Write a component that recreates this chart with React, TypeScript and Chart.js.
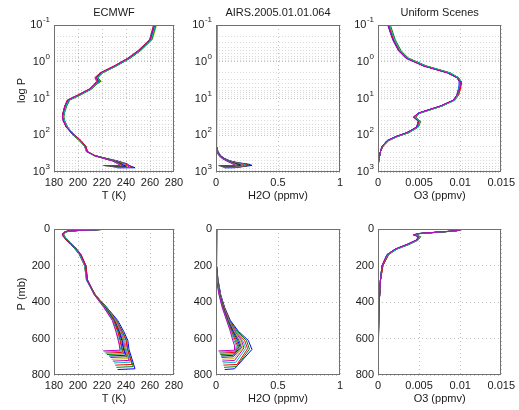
import React, { useEffect, useRef } from 'react';
import { Chart, registerables } from 'chart.js';

Chart.register(...registerables);

// ---------------- data ----------------
// shared pressure levels (mb) of every profile, top of atmosphere downwards
const PRESSURE_LEVELS = [0.1, 0.25, 0.5, 0.8, 1.3, 2, 2.7, 3.4, 4.2, 5.5, 8, 11, 16, 25, 32, 42, 60, 85, 110, 140, 200, 280, 360, 430, 500, 560, 610];
// the last three points of each profile: level of the low-level maximum, surface, skin point
const PEAK_P = [640, 642, 644, 646, 648, 650, 650, 652, 654, 656, 658, 660];
const SURFACE_P = [664, 670, 676, 684, 692, 700, 710, 720, 730, 742, 754, 766];
const SKIN_P = [668, 674, 680, 688, 696, 704, 714, 724, 734, 746, 758, 770];

// temperature (K)
const T_01 = [263.5, 260, 250.5, 242, 230.5, 219, 215, 216.5, 213.5, 210, 200.5, 191.5, 189, 187.5, 187, 188, 190.5, 195, 198.5, 202, 206, 207.5, 213.5, 221.5, 228.5, 231.5, 233.5, 234.5, 235, 221];
const T_02 = [264.5, 261, 251.5, 243, 231.5, 220, 216, 218, 214.5, 211, 201.5, 192.5, 190, 188.5, 188, 189, 191, 195.5, 198, 201.5, 205.5, 207, 213.5, 222, 229, 232, 234, 235, 236, 222];
const T_03 = [263, 260, 250, 241.5, 230, 218.5, 214, 215.5, 213, 209.5, 200, 191, 189, 187.5, 187.5, 188.5, 190, 194.5, 198.5, 202.5, 206.5, 208, 214, 222, 229.5, 233, 235, 236, 237, 223];
const T_04 = [265, 261.5, 252, 243.5, 232, 220.5, 216.5, 219, 215, 211.5, 202, 193, 190.5, 188.5, 188, 189, 191.5, 195, 197.5, 201, 205.5, 207.5, 214, 222.5, 230, 233.5, 235.5, 236.5, 238, 224];
const T_05 = [264, 260.5, 251, 242.5, 231, 219.5, 215.5, 217, 214, 210.5, 201, 192, 189.5, 188, 187.5, 188.5, 190.5, 194, 198, 202, 206, 207.5, 214, 222.5, 230, 234, 236.5, 237.5, 239.5, 226];
const T_06 = [263.5, 260, 250.5, 242, 231, 219, 215, 218, 214, 210, 200.5, 191.5, 189, 187.5, 187, 188, 190, 195.5, 199, 202.5, 206.5, 207.5, 214, 223, 230.5, 234.5, 237, 238, 240.5, 227];
const T_07 = [265.5, 262, 252, 243, 231.5, 220, 216, 219.5, 215, 211, 201.5, 192.5, 190, 188.5, 188, 189, 191, 194.5, 197.5, 201.5, 205.5, 207.5, 214.5, 223, 231, 235, 237.5, 238.5, 241.5, 228];
const T_08 = [264, 260.5, 251, 242.5, 231, 219.5, 215.5, 217.5, 214.5, 210.5, 201, 192, 189.5, 188, 187.5, 188, 190.5, 195, 198.5, 202, 206, 207.5, 214, 223, 231, 235.5, 238, 239, 242.5, 229];
const T_09 = [263, 259.5, 250, 241.5, 230.5, 218.5, 214.5, 216, 213.5, 209.5, 200, 191.5, 189, 187.5, 187.5, 188.5, 190.5, 194.5, 198, 202, 206, 208, 214, 223.5, 231.5, 236, 239, 240, 243.5, 230];
const T_10 = [264.5, 261, 251.5, 243, 231.5, 220, 216, 218.5, 214.5, 211, 201.5, 192.5, 190, 188.5, 188, 189, 191, 195, 198, 201.5, 205.5, 207, 214.5, 223.5, 232, 236.5, 240, 241, 245, 231];
const T_11 = [265, 261.5, 252, 243.5, 232, 220.5, 216.5, 217, 215, 211, 202, 193, 190.5, 188.5, 188, 189, 191, 195.5, 198.5, 202, 206, 207.5, 214.5, 224, 232, 237, 240.5, 241.5, 246, 232];
const T_12 = [264, 260.5, 251, 242.5, 231, 219.5, 215.5, 216.5, 214, 210.5, 201, 192, 189.5, 188, 187.5, 188.5, 190.5, 194.5, 198, 202, 206.5, 208, 214, 224, 233, 238, 241.5, 242.5, 247.5, 233];
const TEMPERATURE = [T_01, T_02, T_03, T_04, T_05, T_06, T_07, T_08, T_09, T_10, T_11, T_12];

// water vapour (ppmv)
const Q_01 = [0.004, 0.004, 0.004, 0.004, 0.004, 0.004, 0.004, 0.004, 0.004, 0.004, 0.003, 0.003, 0.003, 0.003, 0.003, 0.003, 0.003, 0.002, 0.002, 0.002, 0.003, 0.008, 0.024, 0.05, 0.085, 0.115, 0.135, 0.15, 0.15, 0.02];
const Q_02 = [0.005, 0.005, 0.005, 0.005, 0.004, 0.004, 0.004, 0.004, 0.004, 0.004, 0.004, 0.003, 0.003, 0.003, 0.003, 0.003, 0.003, 0.003, 0.002, 0.002, 0.003, 0.009, 0.026, 0.052, 0.088, 0.12, 0.145, 0.165, 0.155, 0.025];
const Q_03 = [0.003, 0.003, 0.003, 0.003, 0.003, 0.003, 0.003, 0.003, 0.003, 0.003, 0.003, 0.003, 0.003, 0.002, 0.002, 0.002, 0.002, 0.002, 0.002, 0.002, 0.004, 0.01, 0.028, 0.055, 0.09, 0.125, 0.155, 0.175, 0.15, 0.03];
const Q_04 = [0.006, 0.006, 0.006, 0.005, 0.005, 0.005, 0.005, 0.005, 0.005, 0.005, 0.004, 0.004, 0.004, 0.003, 0.003, 0.003, 0.003, 0.003, 0.003, 0.003, 0.004, 0.011, 0.03, 0.057, 0.092, 0.13, 0.165, 0.185, 0.145, 0.035];
const Q_05 = [0.004, 0.004, 0.004, 0.004, 0.004, 0.004, 0.004, 0.004, 0.004, 0.004, 0.004, 0.003, 0.003, 0.003, 0.003, 0.003, 0.003, 0.002, 0.002, 0.002, 0.004, 0.012, 0.03, 0.058, 0.095, 0.135, 0.175, 0.195, 0.14, 0.04];
const Q_06 = [0.005, 0.005, 0.005, 0.005, 0.005, 0.005, 0.005, 0.004, 0.004, 0.004, 0.004, 0.004, 0.003, 0.003, 0.003, 0.003, 0.003, 0.003, 0.002, 0.002, 0.005, 0.012, 0.031, 0.06, 0.097, 0.14, 0.185, 0.205, 0.14, 0.045];
const Q_07 = [0.003, 0.003, 0.003, 0.003, 0.003, 0.003, 0.003, 0.003, 0.003, 0.003, 0.003, 0.003, 0.002, 0.002, 0.002, 0.002, 0.002, 0.002, 0.002, 0.002, 0.005, 0.013, 0.032, 0.061, 0.1, 0.145, 0.195, 0.215, 0.145, 0.05];
const Q_08 = [0.006, 0.006, 0.005, 0.005, 0.005, 0.005, 0.005, 0.005, 0.005, 0.004, 0.004, 0.004, 0.004, 0.003, 0.003, 0.003, 0.003, 0.003, 0.003, 0.002, 0.005, 0.013, 0.033, 0.062, 0.102, 0.15, 0.205, 0.225, 0.15, 0.05];
const Q_09 = [0.004, 0.004, 0.004, 0.004, 0.004, 0.004, 0.004, 0.004, 0.004, 0.004, 0.004, 0.004, 0.003, 0.003, 0.003, 0.003, 0.003, 0.003, 0.002, 0.002, 0.006, 0.014, 0.034, 0.064, 0.105, 0.155, 0.215, 0.24, 0.16, 0.055];
const Q_10 = [0.005, 0.005, 0.005, 0.005, 0.004, 0.004, 0.004, 0.004, 0.004, 0.004, 0.004, 0.003, 0.003, 0.003, 0.003, 0.003, 0.003, 0.003, 0.003, 0.003, 0.006, 0.015, 0.035, 0.066, 0.108, 0.16, 0.23, 0.255, 0.17, 0.06];
const Q_11 = [0.003, 0.003, 0.003, 0.003, 0.003, 0.003, 0.003, 0.003, 0.003, 0.003, 0.003, 0.003, 0.003, 0.002, 0.002, 0.002, 0.002, 0.002, 0.002, 0.002, 0.006, 0.016, 0.036, 0.068, 0.11, 0.17, 0.245, 0.27, 0.165, 0.065];
const Q_12 = [0.005, 0.005, 0.005, 0.005, 0.005, 0.005, 0.005, 0.005, 0.005, 0.005, 0.004, 0.004, 0.004, 0.004, 0.003, 0.003, 0.003, 0.003, 0.003, 0.003, 0.007, 0.017, 0.038, 0.07, 0.115, 0.18, 0.26, 0.29, 0.15, 0.07];
const WATER = [Q_01, Q_02, Q_03, Q_04, Q_05, Q_06, Q_07, Q_08, Q_09, Q_10, Q_11, Q_12];

// ozone (ppmv)
const O_01 = [0.0012, 0.0018, 0.0025, 0.0034, 0.0055, 0.0084, 0.0096, 0.0100, 0.0101, 0.0099, 0.0096, 0.0092, 0.0076, 0.0049, 0.0043, 0.0049, 0.0047, 0.0035, 0.0021, 0.0011, 0.0005, 0.0003, 0.0002, 0.0001, 0.00005, 0.00003, 0.00002, 0.00002, 0.00002, 0.00002];
const O_02 = [0.0014, 0.0020, 0.0027, 0.0036, 0.0058, 0.0087, 0.0098, 0.0101, 0.0100, 0.0098, 0.0097, 0.0094, 0.0078, 0.0051, 0.0045, 0.0051, 0.0049, 0.0037, 0.0023, 0.0012, 0.0005, 0.0003, 0.0002, 0.0001, 0.00005, 0.00003, 0.00002, 0.00002, 0.00002, 0.00002];
const O_03 = [0.0013, 0.0019, 0.0026, 0.0035, 0.0056, 0.0085, 0.0097, 0.0099, 0.0100, 0.0100, 0.0098, 0.0093, 0.0077, 0.0050, 0.0046, 0.0050, 0.0048, 0.0036, 0.0022, 0.0012, 0.0006, 0.0003, 0.0002, 0.0001, 0.00005, 0.00003, 0.00002, 0.00002, 0.00002, 0.00002];
const O_04 = [0.0015, 0.0021, 0.0028, 0.0037, 0.0059, 0.0088, 0.0098, 0.0101, 0.0101, 0.0099, 0.0097, 0.0093, 0.0078, 0.0051, 0.0044, 0.0052, 0.0049, 0.0038, 0.0023, 0.0013, 0.0006, 0.0003, 0.0002, 0.0001, 0.00006, 0.00003, 0.00002, 0.00002, 0.00002, 0.00002];
const O_05 = [0.0012, 0.0018, 0.0025, 0.0034, 0.0056, 0.0085, 0.0096, 0.0099, 0.0099, 0.0098, 0.0096, 0.0092, 0.0076, 0.0049, 0.0045, 0.0049, 0.0047, 0.0035, 0.0021, 0.0011, 0.0005, 0.0003, 0.0002, 0.0001, 0.00005, 0.00003, 0.00002, 0.00002, 0.00002, 0.00002];
const O_06 = [0.0013, 0.0019, 0.0026, 0.0036, 0.0057, 0.0086, 0.0097, 0.0100, 0.0100, 0.0099, 0.0097, 0.0093, 0.0077, 0.0050, 0.0043, 0.0050, 0.0048, 0.0036, 0.0022, 0.0012, 0.0005, 0.0003, 0.0002, 0.0001, 0.00005, 0.00003, 0.00002, 0.00002, 0.00002, 0.00002];
const O_07 = [0.0014, 0.0020, 0.0027, 0.0036, 0.0058, 0.0087, 0.0097, 0.0101, 0.0102, 0.0100, 0.0098, 0.0094, 0.0078, 0.0051, 0.0045, 0.0051, 0.0048, 0.0037, 0.0022, 0.0012, 0.0005, 0.0003, 0.0002, 0.0001, 0.00005, 0.00003, 0.00002, 0.00002, 0.00002, 0.00002];
const O_08 = [0.0013, 0.0019, 0.0026, 0.0035, 0.0056, 0.0085, 0.0096, 0.0100, 0.0100, 0.0099, 0.0097, 0.0093, 0.0076, 0.0050, 0.0044, 0.0050, 0.0047, 0.0036, 0.0022, 0.0012, 0.0005, 0.0003, 0.0002, 0.0001, 0.00005, 0.00003, 0.00002, 0.00002, 0.00002, 0.00002];
const O_09 = [0.0012, 0.0018, 0.0025, 0.0035, 0.0057, 0.0086, 0.0097, 0.0100, 0.0099, 0.0098, 0.0096, 0.0092, 0.0077, 0.0049, 0.0044, 0.0049, 0.0048, 0.0035, 0.0021, 0.0011, 0.0005, 0.0003, 0.0002, 0.0001, 0.00005, 0.00003, 0.00002, 0.00002, 0.00002, 0.00002];
const O_10 = [0.0014, 0.0020, 0.0027, 0.0037, 0.0058, 0.0087, 0.0098, 0.0101, 0.0101, 0.0100, 0.0098, 0.0094, 0.0078, 0.0051, 0.0045, 0.0051, 0.0049, 0.0037, 0.0023, 0.0013, 0.0006, 0.0003, 0.0002, 0.0001, 0.00005, 0.00003, 0.00002, 0.00002, 0.00002, 0.00002];
const O_11 = [0.0013, 0.0019, 0.0026, 0.0035, 0.0056, 0.0085, 0.0096, 0.0099, 0.0100, 0.0099, 0.0097, 0.0093, 0.0077, 0.0050, 0.0046, 0.0050, 0.0048, 0.0036, 0.0022, 0.0012, 0.0005, 0.0003, 0.0002, 0.0001, 0.00005, 0.00003, 0.00002, 0.00002, 0.00002, 0.00002];
const O_12 = [0.0013, 0.0019, 0.0026, 0.0036, 0.0057, 0.0086, 0.0097, 0.0100, 0.0100, 0.0099, 0.0097, 0.0093, 0.0077, 0.0050, 0.0044, 0.0050, 0.0048, 0.0036, 0.0022, 0.0012, 0.0005, 0.0003, 0.0002, 0.0001, 0.00005, 0.00003, 0.00002, 0.00002, 0.00002, 0.00002];
const OZONE = [O_01, O_02, O_03, O_04, O_05, O_06, O_07, O_08, O_09, O_10, O_11, O_12];

// axis ticks and texts
const X_TICKS_T = [180, 200, 220, 240, 260, 280];
const X_TICKS_H2O = [0, 0.5, 1];
const X_TICKS_O3 = [0, 0.005, 0.01, 0.015];
const LOG_P_DECADES = [-1, 0, 1, 2, 3];
const P_TICKS = [0, 200, 400, 600, 800];
const PANEL_TITLES = ['ECMWF', 'AIRS.2005.01.01.064', 'Uniform Scenes'];
const X_LABELS = ['T (K)', 'H2O (ppmv)', 'O3 (ppmv)'];
const Y_LABELS = ['log P', 'P (mb)'];

// ---------------- styling / layout ----------------
const FONT = "'Liberation Sans', Arial, Helvetica, sans-serif";
const TEXT = '#1a1a1a';
const FRAME = '#707070';
const GRID_MAJOR = 'rgba(0,0,0,0.24)';
const GRID_MINOR = 'rgba(0,0,0,0.15)';
const LINE_COLORS = ['#0000ff', '#008000', '#ff0000', '#00bfbf', '#bf00bf', '#bfbf00', '#404040'];

// canvas boxes (cl/cw, ct/ch) and plot areas (al/ar, at/ab) in page pixels
const COLS = [
  { cl: 0, cw: 196, al: 54, ar: 174 },
  { cl: 176, cw: 186, al: 216, ar: 340 },
  { cl: 338, cw: 181, al: 378, ar: 502 },
];
const ROWS = [
  { ct: 0, ch: 205, at: 25, ab: 172 },
  { ct: 206, ch: 204, at: 229, ab: 375 },
];

Chart.defaults.font.family = FONT;

function pressureAt(k: number, i: number): number {
  const n = PRESSURE_LEVELS.length;
  if (i < n) return PRESSURE_LEVELS[i];
  return [PEAK_P, SURFACE_P, SKIN_P][i - n][k];
}

function makeDatasets(series: number[][]) {
  return series.map((vals, k) => ({
    label: 'profile ' + (k + 1),
    data: vals.map((v, i) => ({ x: v, y: pressureAt(k, i) })),
    borderColor: LINE_COLORS[(series.length - 1 - k) % LINE_COLORS.length],
    backgroundColor: LINE_COLORS[(series.length - 1 - k) % LINE_COLORS.length],
    borderWidth: 1,
    pointRadius: 0,
    showLine: true,
    tension: 0,
  }));
}

const fmt = (v: any) => String(Number(Number(v).toFixed(4)));

const decorPlugin = {
  id: 'decor',
  afterDraw(chart: any, _args: any, opts: any) {
    const { ctx, chartArea: a } = chart;
    ctx.save();
    ctx.setLineDash([]);
    ctx.strokeStyle = FRAME;
    ctx.lineWidth = 1;
    ctx.strokeRect(Math.round(a.left) + 0.5, Math.round(a.top) + 0.5, Math.round(a.right - a.left) - 1, Math.round(a.bottom - a.top) - 1);
    ctx.fillStyle = TEXT;
    ctx.textBaseline = 'middle';
    const cx = (a.left + a.right) / 2;
    ctx.font = '11px ' + FONT;
    ctx.textAlign = 'center';
    if (opts.title) ctx.fillText(opts.title, cx, a.top - 12);
    if (opts.xTitle) ctx.fillText(opts.xTitle, cx, a.bottom + 24);
    if (opts.yTitle) {
      ctx.save();
      ctx.translate(22, (a.top + a.bottom) / 2 - 8);
      ctx.rotate(-Math.PI / 2);
      ctx.fillText(opts.yTitle, 0, 0);
      ctx.restore();
    }
    if (opts.decades) {
      const ys = chart.scales.y;
      const xr = a.left - 4;
      ctx.textAlign = 'right';
      for (const e of opts.decades) {
        const y = ys.getPixelForValue(Math.pow(10, e));
        const es = String(e);
        ctx.font = '8px ' + FONT;
        const ew = ctx.measureText(es).width;
        ctx.fillText(es, xr, y - 5);
        ctx.font = '11px ' + FONT;
        ctx.fillText('10', xr - ew - 0.5, y);
      }
    }
    ctx.restore();
  },
};

function buildConfig(row: number, col: number): any {
  const R = ROWS[row];
  const C = COLS[col];
  const series = [TEMPERATURE, WATER, OZONE][col];
  const xTicks = [X_TICKS_T, X_TICKS_H2O, X_TICKS_O3][col];
  const logY = row === 0;
  const yAxisW = C.al - C.cl;
  const xAxisH = R.ct + R.ch - R.ab;
  const tickFont = { size: 11, family: FONT };

  const yScale = logY
    ? {
        type: 'logarithmic',
        min: Math.pow(10, LOG_P_DECADES[0]),
        max: Math.pow(10, LOG_P_DECADES[LOG_P_DECADES.length - 1]),
        reverse: true,
        afterBuildTicks: (s: any) => {
          const t: any[] = [];
          for (let d = 0; d < LOG_P_DECADES.length - 1; d++) {
            for (let m = 1; m <= 9; m++) t.push({ value: m * Math.pow(10, LOG_P_DECADES[d]), major: m === 1 });
          }
          t.push({ value: Math.pow(10, LOG_P_DECADES[LOG_P_DECADES.length - 1]), major: true });
          s.ticks = t;
        },
        afterFit: (s: any) => { s.width = yAxisW; },
        ticks: { display: false, autoSkip: false },
        grid: {
          color: (c: any) => (c.tick && c.tick.major ? GRID_MAJOR : GRID_MINOR),
          lineWidth: 1,
          drawTicks: false,
        },
        border: { display: false, dash: [1, 2] },
      }
    : {
        type: 'linear',
        min: P_TICKS[0],
        max: P_TICKS[P_TICKS.length - 1],
        reverse: true,
        afterBuildTicks: (s: any) => { s.ticks = P_TICKS.map((v) => ({ value: v })); },
        afterFit: (s: any) => { s.width = yAxisW; },
        ticks: { autoSkip: false, padding: 4, color: TEXT, font: tickFont, callback: fmt },
        grid: { color: GRID_MAJOR, lineWidth: 1, drawTicks: false },
        border: { display: false, dash: [1, 3] },
      };

  return {
    type: 'scatter',
    data: { datasets: makeDatasets(series) },
    options: {
      responsive: false,
      animation: false,
      events: [],
      layout: { padding: { top: R.at - R.ct, right: C.cl + C.cw - C.ar, left: 0, bottom: 0 } },
      plugins: {
        legend: { display: false },
        tooltip: { enabled: false },
        decor: {
          title: row === 0 ? PANEL_TITLES[col] : '',
          xTitle: X_LABELS[col],
          yTitle: col === 0 ? Y_LABELS[row] : '',
          decades: logY ? LOG_P_DECADES : null,
        },
      },
      scales: {
        x: {
          type: 'linear',
          position: 'bottom',
          min: xTicks[0],
          max: xTicks[xTicks.length - 1],
          afterBuildTicks: (s: any) => { s.ticks = xTicks.map((v) => ({ value: v })); },
          afterFit: (s: any) => { s.height = xAxisH; },
          ticks: { autoSkip: false, maxRotation: 0, minRotation: 0, padding: 4, color: TEXT, font: tickFont, callback: fmt },
          grid: { color: GRID_MAJOR, lineWidth: 1, drawTicks: false },
          border: { display: false, dash: [1, 3] },
        },
        y: yScale,
      },
    },
    plugins: [decorPlugin],
  };
}

function Panel({ row, col }: { row: number; col: number }) {
  const ref = useRef<HTMLCanvasElement | null>(null);
  const R = ROWS[row];
  const C = COLS[col];
  useEffect(() => {
    if (!ref.current) return;
    const chart = new Chart(ref.current, buildConfig(row, col));
    return () => chart.destroy();
  }, [row, col]);
  return (
    <canvas
      ref={ref}
      width={C.cw}
      height={R.ch}
      style={{ position: 'absolute', left: C.cl, top: R.ct, width: C.cw, height: R.ch }}
    />
  );
}

export default function App() {
  const cells: JSX.Element[] = [];
  for (let r = 0; r < ROWS.length; r++) {
    for (let c = 0; c < COLS.length; c++) cells.push(<Panel key={r + '-' + c} row={r} col={c} />);
  }
  return (
    <div style={{ position: 'absolute', left: 0, top: 0, width: 519, height: 410, background: '#fff', overflow: 'hidden' }}>
      {cells}
    </div>
  );
}
